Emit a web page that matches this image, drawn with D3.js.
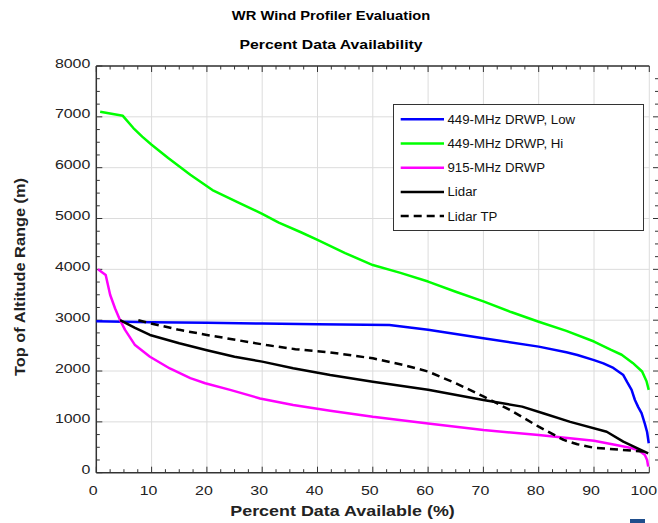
<!DOCTYPE html>
<html><head><meta charset="utf-8">
<script src="https://cdn.jsdelivr.net/npm/d3@7"></script>
<style>body{margin:0;background:#fff}svg{display:block}text{font-family:"Liberation Sans",Arial,sans-serif}</style>
</head><body>
<svg id="c" width="658" height="523"></svg>
<script>
const titleLines = ["WR Wind Profiler Evaluation", "Percent Data Availability"];
const xLabel = "Percent Data Available (%)";
const yLabel = "Top of Altitude Range (m)";
const xTicks = [0,10,20,30,40,50,60,70,80,90,100];
const yTicks = [0,1000,2000,3000,4000,5000,6000,7000,8000];
const seriesNames = ["449-MHz DRWP, Low","449-MHz DRWP, Hi","915-MHz DRWP","Lidar","Lidar TP"];
const seriesColors = ["#0000ff","#00ff00","#ff00ff","#000000","#000000"];
const seriesDash = [null,null,null,null,"8,5"];
const low449 = [[0,2980],[10,2960],[20,2950],[30,2935],[40,2920],[53,2905],[60,2810],[70,2645],[80,2480],[85,2370],[87,2315],[90,2215],[91.7,2150],[93.5,2060],[95.3,1920],[96,1780],[96.8,1630],[97.4,1430],[98,1290],[98.6,1170],[99.2,960],[99.6,800],[99.9,580]];
const hi449 = [[0.7,7100],[4.8,7020],[6.7,6780],[8.3,6610],[10,6450],[13,6190],[17,5860],[21,5560],[26,5300],[30,5090],[33,4920],[37,4730],[40,4580],[45,4320],[50,4085],[55,3930],[60,3760],[65,3560],[70,3370],[75,3160],[80,2970],[85,2790],[90,2580],[93,2420],[95,2320],[97,2160],[98.7,1990],[99.5,1800],[99.9,1630]];
const drwp915 = [[0.3,4000],[1.7,3890],[2.5,3500],[3.4,3230],[4.3,3000],[5.2,2810],[7,2510],[9.7,2280],[13.3,2050],[17,1860],[19.7,1760],[24.2,1630],[29.6,1460],[35.6,1330],[42.3,1220],[50,1100],[60,970],[70,840],[80,740],[90,630],[94,545],[96.5,490],[98,445],[99.2,350],[99.6,250],[99.8,120]];
const lidar = [[4.3,3000],[7,2850],[9.7,2710],[15,2545],[20,2410],[25,2280],[30,2185],[35.6,2055],[42.3,1920],[50,1790],[60,1630],[70,1430],[77,1300],[80.8,1170],[85.7,1000],[92.3,805],[95.3,610],[97.5,500],[99.8,380]];
const lidarTP = [[7.6,3000],[9.7,2940],[15,2810],[20,2710],[25.4,2610],[30.8,2510],[36,2430],[42.3,2365],[50,2250],[55.5,2120],[60,1990],[65,1760],[70,1500],[74.8,1235],[80,905],[84.5,645],[87,560],[90,490],[95,450],[99.8,410]];
const allSeries = [low449, hi449, drwp915, lidar, lidarTP];

const svg = d3.select("#c");
const x = d3.scaleLinear().domain([0,100]).range([96.3,649.3]);
const y = d3.scaleLinear().domain([0,8000]).range([472.7,66]);

function label(parent, tx, ty, str, size, sx, opts){
  opts = opts || {};
  const t = parent.append("text")
    .attr("transform", "translate("+tx+","+ty+")" + (opts.rot ? " rotate("+opts.rot+")" : "") + " scale("+sx+",1)")
    .attr("font-size", size).attr("fill", opts.fill || "#222")
    .attr("text-anchor", opts.anchor || "start")
    .text(str);
  if (opts.bold) t.attr("font-weight","bold");
  return t;
}

// gridlines
const g = svg.append("g");
g.selectAll(".vg").data(xTicks.slice(1)).join("line")
  .attr("x1",d=>x(d)).attr("x2",d=>x(d)).attr("y1",y(8000)).attr("y2",y(0))
  .attr("stroke","#dcdcdc").attr("stroke-width",1);
g.selectAll(".hg").data(yTicks.slice(1)).join("line")
  .attr("x1",x(0)).attr("x2",x(100)).attr("y1",d=>y(d)).attr("y2",d=>y(d))
  .attr("stroke","#dcdcdc").attr("stroke-width",1);

// axes
const minorX = d3.range(0,100.01,2.5);
const minorY = d3.range(0,8000.1,250);
const axisCol = "#333";
svg.append("line").attr("x1",x(0)).attr("x2",x(100)).attr("y1",y(0)).attr("y2",y(0)).attr("stroke",axisCol).attr("stroke-width",1.5);
svg.selectAll(".bt").data(minorX).join("line")
  .attr("x1",d=>x(d)).attr("x2",d=>x(d)).attr("y1",y(0)).attr("y2",d=>y(0)-(d%10===0?6:3.5))
  .attr("stroke",axisCol).attr("stroke-width",1);
svg.append("line").attr("x1",x(0)).attr("x2",x(100)).attr("y1",y(8000)).attr("y2",y(8000)).attr("stroke",axisCol).attr("stroke-width",1.5);
svg.selectAll(".tt").data(minorX).join("line")
  .attr("x1",d=>x(d)).attr("x2",d=>x(d)).attr("y1",y(8000)).attr("y2",d=>y(8000)+(d%10===0?6:3.5))
  .attr("stroke",axisCol).attr("stroke-width",1);
svg.append("line").attr("x1",x(0)).attr("x2",x(0)).attr("y1",y(0)).attr("y2",y(8000)).attr("stroke",axisCol).attr("stroke-width",1.5);
svg.selectAll(".lt").data(minorY).join("line")
  .attr("y1",d=>y(d)).attr("y2",d=>y(d)).attr("x1",x(0)).attr("x2",d=>x(0)+(d%1000===0?6:3.5))
  .attr("stroke",axisCol).attr("stroke-width",1);
svg.selectAll(".rt").data(minorY.filter(d=>d>0&&d<8000)).join("line")
  .attr("y1",d=>y(d)).attr("y2",d=>y(d)).attr("x1",d=>658-(d%1000===0?5:3)).attr("x2",658)
  .attr("stroke",axisCol).attr("stroke-width",1);

// tick labels
const tl = svg.append("g");
xTicks.forEach(d=>{
  if (d === 100) label(tl, 657, y(0)+22, d, 13.5, 1.18, {anchor:"end"});
  else label(tl, x(d)-3, y(0)+22, d, 13.5, 1.18, {anchor:"middle"});
});
yTicks.forEach(d=>{
  label(tl, x(0)-6, y(d)+1.5, d, 13.5, 1.18, {anchor:"end"});
});

// series
const line = d3.line().x(d=>x(d[0])).y(d=>y(d[1]));
allSeries.forEach((s,i)=>{
  svg.append("path").attr("d",line(s)).attr("fill","none")
    .attr("stroke",seriesColors[i]).attr("stroke-width",2.5)
    .attr("stroke-linejoin","round")
    .attr("stroke-dasharray",seriesDash[i]);
});

// legend
const lg = svg.append("g");
lg.append("rect").attr("x",393.5).attr("y",104.5).attr("width",250).attr("height",126)
  .attr("fill","#fff").attr("stroke","#333").attr("stroke-width",1);
seriesNames.forEach((n,i)=>{
  const yy = 119.3 + i*24.2;
  lg.append("line").attr("x1",400.7).attr("x2",444).attr("y1",yy).attr("y2",yy)
    .attr("stroke",seriesColors[i]).attr("stroke-width",2.5).attr("stroke-dasharray",seriesDash[i]);
  label(lg, 447.5, yy+4.5, n, 12.5, 1.06, {fill:"#111"});
});

// titles and axis labels
label(svg, 331, 20, titleLines[0], 13.5, 1.09, {anchor:"middle", bold:true, fill:"#000"});
label(svg, 331, 49, titleLines[1], 13.5, 1.17, {anchor:"middle", bold:true, fill:"#000"});
label(svg, 342.5, 516, xLabel, 14, 1.28, {anchor:"middle", bold:true});
label(svg, 25, 277, yLabel, 14, 1.17, {anchor:"middle", bold:true, rot:-90});

// cropped icon at bottom-right edge
svg.append("rect").attr("x",630).attr("y",519).attr("width",15).attr("height",4).attr("fill","#1f4e8c");
</script>
</body></html>
